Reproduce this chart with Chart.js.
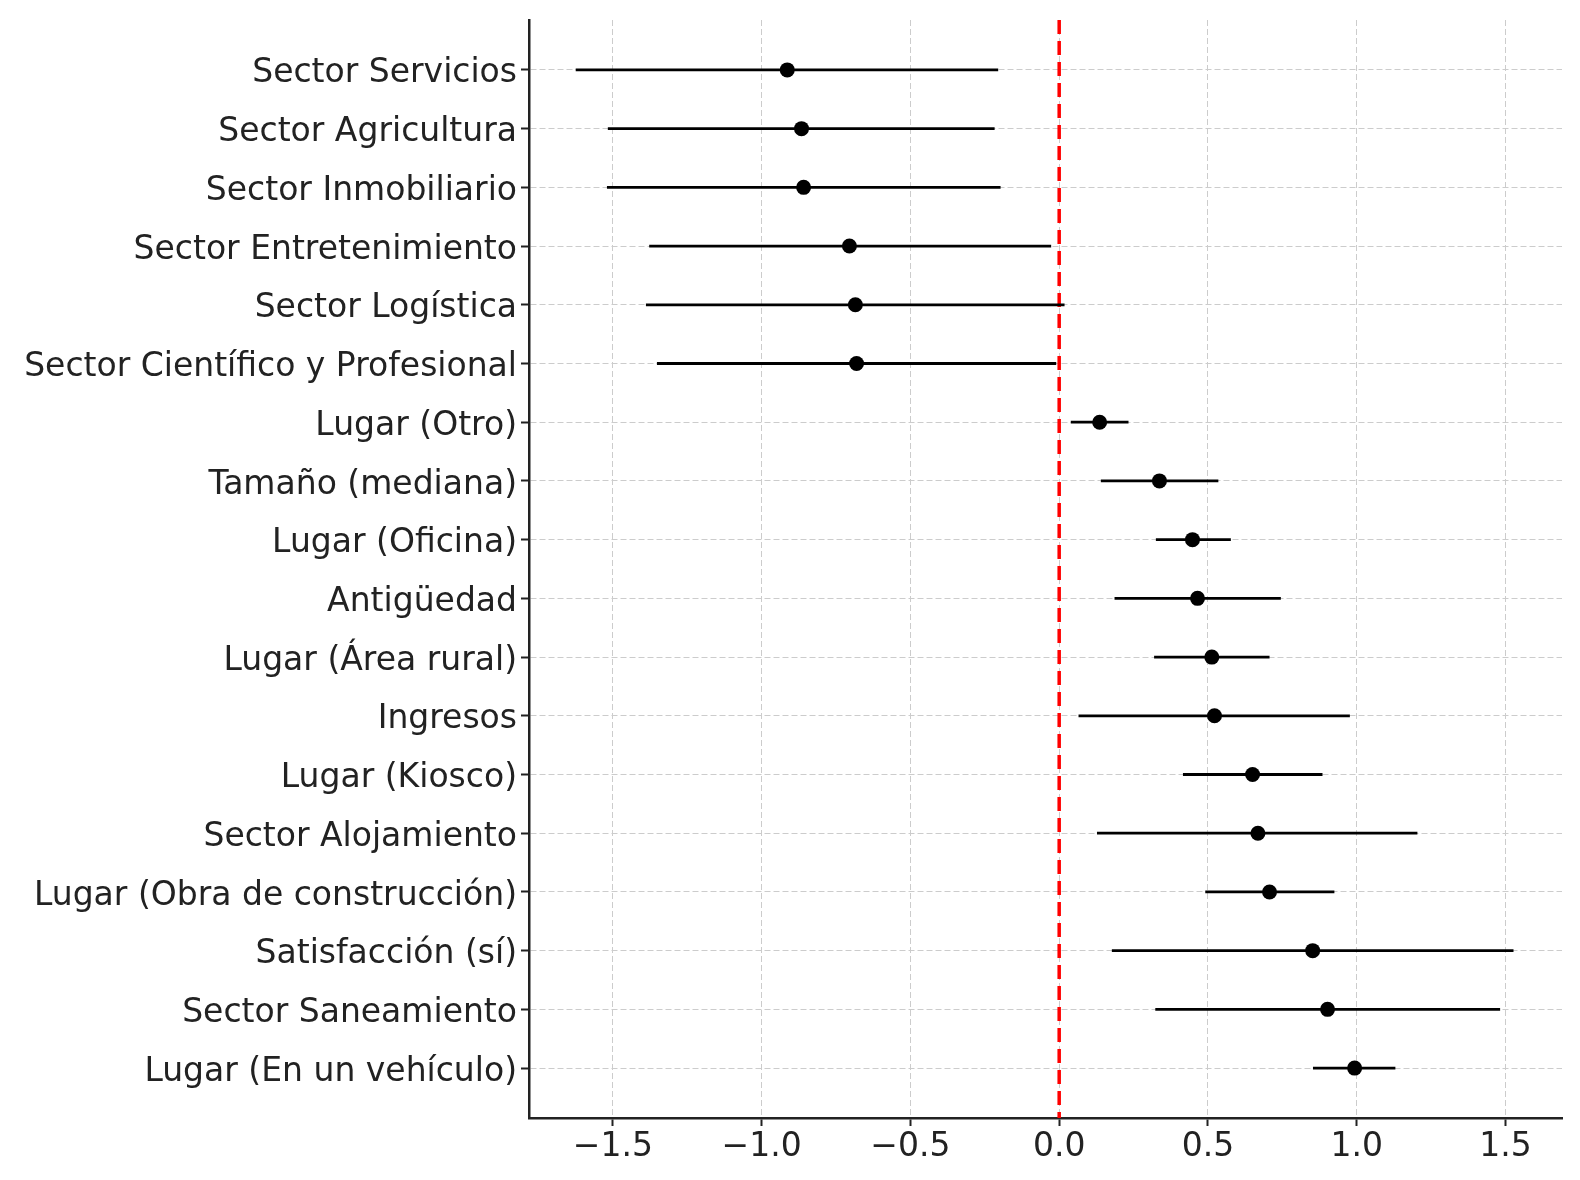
<!DOCTYPE html>
<html>
<head>
<meta charset="utf-8">
<script src="https://cdn.jsdelivr.net/npm/chart.js@4/dist/chart.umd.min.js"></script>
<style>
  html, body { margin: 0; padding: 0; background: #fff; }
  #wrap { width: 1580px; height: 1180px; }
</style>
</head>
<body>
<div id="wrap"><canvas id="chart" width="1580" height="1180"></canvas></div>
<script>
"use strict";

// rows, top to bottom
var categories = [
  "Sector Servicios",
  "Sector Agricultura",
  "Sector Inmobiliario",
  "Sector Entretenimiento",
  "Sector Logística",
  "Sector Científico y Profesional",
  "Lugar (Otro)",
  "Tamaño (mediana)",
  "Lugar (Oficina)",
  "Antigüedad",
  "Lugar (Área rural)",
  "Ingresos",
  "Lugar (Kiosco)",
  "Sector Alojamiento",
  "Lugar (Obra de construcción)",
  "Satisfacción (sí)",
  "Sector Saneamiento",
  "Lugar (En un vehículo)"
];

var estimates = [-0.914, -0.866, -0.859, -0.705, -0.685, -0.681, 0.136, 0.337, 0.448,
  0.465, 0.513, 0.522, 0.650, 0.668, 0.707, 0.852, 0.902, 0.993];
var lowerCI = [-1.625, -1.517, -1.520, -1.378, -1.389, -1.352, 0.039, 0.140, 0.325,
  0.186, 0.319, 0.065, 0.416, 0.127, 0.491, 0.177, 0.323, 0.853];
var upperCI = [-0.205, -0.217, -0.197, -0.027, 0.018, -0.010, 0.233, 0.535, 0.577,
  0.745, 0.707, 0.977, 0.885, 1.204, 0.925, 1.527, 1.482, 1.130];

var xTickValues = [-1.5, -1.0, -0.5, 0.0, 0.5, 1.0, 1.5];
var xMin = -1.782, xMax = 1.690;
var yMin = -0.85, yMax = 17.85;
var refValue = 0;

var FONT = "'DejaVu Sans', 'Liberation Sans', sans-serif";
var TEXT = "#222222";
var GRID = "#cccccc";

// error bars: one short line per row
var barSets = categories.map(function(c, i) {
  return {
    type: "scatter",
    data: [{ x: lowerCI[i], y: i }, { x: upperCI[i], y: i }],
    showLine: true,
    borderColor: "#000",
    borderWidth: 2.8,
    pointRadius: 0,
    pointHoverRadius: 0,
    order: 2
  };
});

var pointSet = {
  type: "scatter",
  data: estimates.map(function(v, i) { return { x: v, y: i }; }),
  pointRadius: 7.5,
  pointHoverRadius: 7.5,
  pointBackgroundColor: "#000",
  pointBorderWidth: 0,
  order: 1
};

// dashed red reference line, under the data
var refLine = {
  id: "refLine",
  beforeDatasetsDraw: function(chart) {
    var ctx = chart.ctx;
    var x = chart.scales.x.getPixelForValue(refValue);
    var area = chart.chartArea;
    ctx.save();
    ctx.strokeStyle = "#ff0000";
    ctx.lineWidth = 3.5;
    ctx.setLineDash([14, 7]);
    ctx.beginPath();
    ctx.moveTo(x, area.top);
    ctx.lineTo(x, area.bottom);
    ctx.stroke();
    ctx.restore();
  }
};

new Chart(document.getElementById("chart"), {
  type: "scatter",
  data: { datasets: [pointSet].concat(barSets) },
  plugins: [refLine],
  options: {
    responsive: false,
    devicePixelRatio: 1,
    animation: false,
    layout: { padding: { left: 0, right: 18, top: 20, bottom: 0 } },
    plugins: { legend: { display: false }, tooltip: { enabled: false } },
    scales: {
      x: {
        type: "linear",
        min: xMin,
        max: xMax,
        afterBuildTicks: function(scale) {
          scale.ticks = xTickValues.map(function(v) { return { value: v }; });
        },
        afterFit: function(scale) {
          scale.height = 62;
          scale.paddingLeft = 0;
          scale.paddingRight = 0;
        },
        ticks: {
          color: TEXT,
          font: { family: FONT, size: 33 },
          padding: 2,
          maxRotation: 0,
          autoSkip: false,
          callback: function(v) {
            return (v < 0 ? "\u2212" : "") + Math.abs(v).toFixed(1);
          }
        },
        grid: {
          color: GRID,
          lineWidth: 1,
          tickLength: 8,
          tickColor: TEXT,
          tickWidth: 2,
          tickBorderDash: []
        },
        border: { color: TEXT, width: 2.5, dash: [6, 3] }
      },
      y: {
        type: "linear",
        min: yMin,
        max: yMax,
        reverse: true,
        afterBuildTicks: function(scale) {
          scale.ticks = categories.map(function(c, i) { return { value: i }; });
        },
        afterFit: function(scale) {
          scale.width = 529;
          scale.paddingTop = 0;
          scale.paddingBottom = 0;
        },
        ticks: {
          color: TEXT,
          font: { family: FONT, size: 33 },
          padding: 4,
          labelOffset: 4,
          autoSkip: false,
          callback: function(v) { return categories[v]; }
        },
        grid: {
          color: GRID,
          lineWidth: 1,
          tickLength: 8,
          tickColor: TEXT,
          tickWidth: 2,
          tickBorderDash: []
        },
        border: { color: TEXT, width: 2.5, dash: [6, 3] }
      }
    }
  }
});
</script>
</body>
</html>
